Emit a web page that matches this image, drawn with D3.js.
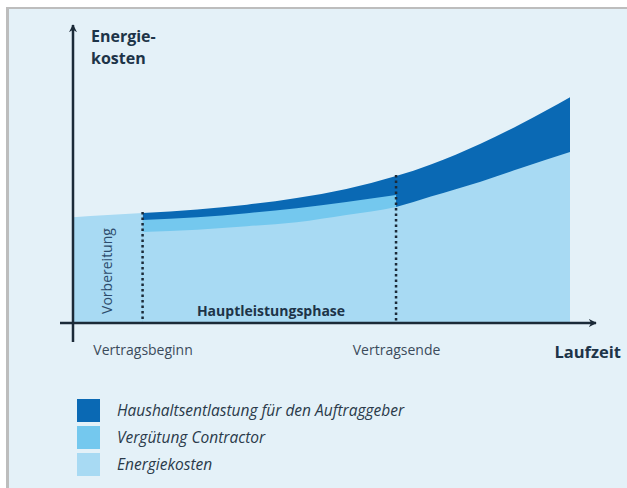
<!DOCTYPE html>
<html>
<head>
<meta charset="utf-8">
<script src="https://cdn.jsdelivr.net/npm/d3@7"></script>
<style>
  body { margin: 0; background: #fff; }
  svg { display: block; font-family: 'Open Sans', 'Noto Sans', sans-serif; }
</style>
</head>
<body>
<svg id="chart" width="627" height="488"></svg>
<script>
// Laufzeit in Jahren (geschaetzt), Kosten in relativen Einheiten
var vorbereitungZeit = [0, 1.4, 2.8];
var vorbereitungKosten = [47, 48, 48.9];

var gesamtZeit = [2.8, 5, 7, 9, 11, 13, 14.4, 16.4, 18, 20];
var gesamtKosten = [48.9, 50.5, 52.6, 55.6, 59.6, 65.3, 70.5, 79.7, 88.3, 100.3];

var contractorZeit = [2.8, 5, 7, 9, 11, 13];
var contractorKosten = [45.8, 47, 48.8, 51, 53.8, 56.9];

var energieZeit = [2.8, 5, 7, 9, 11, 13, 14.4, 16.4, 18, 20];
var energieKosten = [40.4, 41.5, 43, 44.8, 48, 51.6, 56.2, 62.8, 68.8, 76];

var meilensteine = [2.8, 13];
var meilensteinLabels = ['Vertragsbeginn', 'Vertragsende'];

var legendLabels = ['Haushaltsentlastung für den Auftraggeber', 'Vergütung Contractor', 'Energiekosten'];
var legendColors = ['#0a69b4', '#74c8ee', '#a8daf3'];

var svg = d3.select('#chart');
var ink = '#1b2a38';

// Rahmen + Hintergrund
svg.append('rect').attr('x', 6).attr('y', 7).attr('width', 640).attr('height', 500).attr('fill', '#bdbdbd');
svg.append('rect').attr('x', 9).attr('y', 9).attr('width', 640).attr('height', 500).attr('fill', '#e4f1f8');

var x = d3.scaleLinear().domain([0, 20]).range([73, 570]);
var y = d3.scaleLinear().domain([0, 100]).range([323, 98]);

function series(ts, vs) {
  return ts.map(function(t, i) { return { t: t, v: vs[i] }; });
}

var area = d3.area()
  .curve(d3.curveMonotoneX)
  .x(function(d) { return x(d.t); })
  .y0(y(0))
  .y1(function(d) { return y(d.v); });

var g = svg.append('g');

g.append('path').datum(series(gesamtZeit, gesamtKosten)).attr('d', area).attr('fill', legendColors[0]);
g.append('path').datum(series(contractorZeit, contractorKosten)).attr('d', area).attr('fill', legendColors[1]);
g.append('path').datum(series(energieZeit, energieKosten)).attr('d', area).attr('fill', legendColors[2]);
g.append('path').datum(series(vorbereitungZeit, vorbereitungKosten)).attr('d', area).attr('fill', legendColors[2]);

// gepunktete Linien
var topAt = d3.scaleLinear().domain(gesamtZeit).range(gesamtKosten);
g.selectAll('.dots')
  .data(meilensteine)
  .enter().append('line')
  .attr('x1', function(d) { return x(d); })
  .attr('x2', function(d) { return x(d); })
  .attr('y1', function(d) { return y(topAt(d)) - 1; })
  .attr('y2', y(0))
  .attr('stroke', ink)
  .attr('stroke-width', 2.5)
  .attr('stroke-dasharray', '2.5,3');

// Achsen
svg.append('defs').append('marker')
  .attr('id', 'arrow')
  .attr('viewBox', '0 0 10 10')
  .attr('refX', 9).attr('refY', 5)
  .attr('markerWidth', 8).attr('markerHeight', 8)
  .attr('markerUnits', 'userSpaceOnUse')
  .attr('orient', 'auto')
  .append('path').attr('d', 'M0,0 L10,5 L0,10 L3,5 Z').attr('fill', ink);

svg.append('line')
  .attr('x1', x(0)).attr('x2', x(0))
  .attr('y1', 342).attr('y2', 25)
  .attr('stroke', ink).attr('stroke-width', 2.5)
  .attr('marker-end', 'url(#arrow)');

svg.append('line')
  .attr('x1', 60).attr('x2', 596)
  .attr('y1', y(0)).attr('y2', y(0))
  .attr('stroke', ink).attr('stroke-width', 2.5)
  .attr('marker-end', 'url(#arrow)');

var xAxis = svg.append('g')
  .attr('transform', 'translate(0,' + (y(0) + 19) + ')')
  .call(d3.axisBottom(x)
    .tickValues(meilensteine)
    .tickSize(0)
    .tickFormat(function(d, i) { return meilensteinLabels[i]; }));
xAxis.select('.domain').remove();
xAxis.selectAll('text')
  .attr('font-size', 14)
  .attr('font-family', "'Open Sans', sans-serif")
  .attr('fill', '#3b4b5b');

// Beschriftungen
svg.append('text').attr('x', 91).attr('y', 42)
  .attr('font-size', 16).attr('font-weight', 'bold').attr('fill', '#1d3448')
  .text('Energie-');
svg.append('text').attr('x', 91).attr('y', 64)
  .attr('font-size', 16).attr('font-weight', 'bold').attr('fill', '#1d3448')
  .text('kosten');

svg.append('text').attr('x', 621).attr('y', 358)
  .attr('text-anchor', 'end')
  .attr('font-size', 16.5).attr('font-weight', 'bold').attr('fill', '#1d3448')
  .text('Laufzeit');

svg.append('text')
  .attr('transform', 'translate(112,271) rotate(-90)')
  .attr('text-anchor', 'middle')
  .attr('font-size', 14).attr('fill', '#2d4c6c')
  .text('Vorbereitung');

svg.append('text').attr('x', 271).attr('y', 316)
  .attr('text-anchor', 'middle')
  .attr('font-size', 14).attr('font-weight', 'bold').attr('fill', '#1d3448')
  .text('Hauptleistungsphase');

// Legende
var legend = svg.append('g').attr('transform', 'translate(77,399)');
var items = legend.selectAll('.item')
  .data(legendLabels)
  .enter().append('g')
  .attr('transform', function(d, i) { return 'translate(0,' + (i * 27) + ')'; });
items.append('rect')
  .attr('width', 23).attr('height', 23)
  .attr('fill', function(d, i) { return legendColors[i]; });
items.append('text')
  .attr('x', 40).attr('y', 17)
  .attr('font-size', 15.5).attr('font-style', 'italic').attr('fill', '#2a3a4a')
  .text(function(d) { return d; });
</script>
</body>
</html>
